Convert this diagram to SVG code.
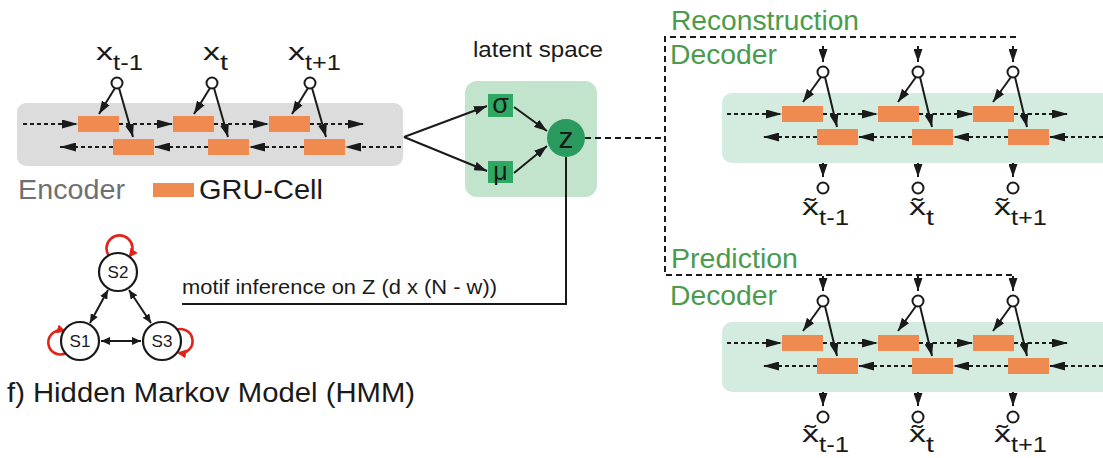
<svg xmlns="http://www.w3.org/2000/svg" width="1103" height="458" viewBox="0 0 1103 458">
  <defs>
    <style>
      text { font-family: "Liberation Sans", Arial, sans-serif; fill: #1a1a1a; }
      .cell { fill: #ef8b50; }
      .io { fill: #ffffff; stroke: #1a1a1a; stroke-width: 2; }
      .dotted { stroke: #1a1a1a; stroke-width: 2; stroke-dasharray: 4 3; fill: none; marker-end: url(#head); }
      .solid { stroke: #1a1a1a; stroke-width: 2; fill: none; marker-end: url(#head-s); }
      .frame { stroke: #1a1a1a; stroke-width: 2; stroke-dasharray: 6 4; fill: none; }
      .big { font-size: 27px; }
      .green { fill: #4a9b4c; }
      .var { font-size: 23px; }
      .sub { font-size: 22px; }
      .state { fill: #ffffff; stroke: #1a1a1a; stroke-width: 2.2; }
      .loop { stroke: #e2231a; stroke-width: 2.6; fill: none; marker-end: url(#head-r); }
      .both { stroke: #1a1a1a; stroke-width: 2; fill: none; marker-start: url(#head-d); marker-end: url(#head-d); }
    </style>
    <marker id="head" viewBox="0 0 16 9" refX="16" refY="4.5" markerWidth="16" markerHeight="9" orient="auto" markerUnits="userSpaceOnUse">
      <path d="M0,0 L16,4.5 L0,9 z" fill="#1a1a1a"/>
    </marker>
    <marker id="head-s" viewBox="0 0 13 9" refX="13" refY="4.5" markerWidth="13" markerHeight="9" orient="auto" markerUnits="userSpaceOnUse">
      <path d="M0,0 L13,4.5 L0,9 z" fill="#1a1a1a"/>
    </marker>
    <marker id="head-d" viewBox="0 0 9 8" refX="9" refY="4" markerWidth="9" markerHeight="8" orient="auto-start-reverse" markerUnits="userSpaceOnUse">
      <path d="M0,0 L9,4 L0,8 z" fill="#1a1a1a"/>
    </marker>
    <marker id="head-r" viewBox="0 0 9 9" refX="7" refY="4.5" markerWidth="9" markerHeight="9" orient="auto" markerUnits="userSpaceOnUse">
      <path d="M0,0 L9,4.5 L0,9 z" fill="#e2231a"/>
    </marker>
  </defs>

  <rect width="1103" height="458" fill="#ffffff"/>

  <!-- Encoder: bidirectional GRU -->
  <g id="encoder">
    <rect x="17" y="103" width="386" height="63" rx="9" fill="#dcdcdc"/>
    <rect class="cell" x="78" y="116" width="41" height="16"/>
    <rect class="cell" x="173" y="116" width="41" height="16"/>
    <rect class="cell" x="269" y="116" width="41" height="16"/>
    <rect class="cell" x="113" y="139" width="41" height="16"/>
    <rect class="cell" x="208" y="139" width="41" height="16"/>
    <rect class="cell" x="304" y="139" width="41" height="16"/>
    <line class="dotted" x1="23" y1="124" x2="78" y2="124"/>
    <line class="dotted" x1="119" y1="124" x2="173" y2="124"/>
    <line class="dotted" x1="214" y1="124" x2="269" y2="124"/>
    <line class="dotted" x1="310" y1="124" x2="364" y2="124"/>
    <line class="dotted" x1="401" y1="147" x2="345" y2="147"/>
    <line class="dotted" x1="304" y1="147" x2="249" y2="147"/>
    <line class="dotted" x1="208" y1="147" x2="154" y2="147"/>
    <line class="dotted" x1="113" y1="147" x2="60" y2="147"/>
    <circle class="io" cx="117" cy="83" r="5.5"/>
    <circle class="io" cx="212" cy="83" r="5.5"/>
    <circle class="io" cx="310" cy="83" r="5.5"/>
    <line class="solid" x1="115" y1="88" x2="99" y2="114"/>
    <line class="solid" x1="119" y1="88" x2="133" y2="137"/>
    <line class="solid" x1="210" y1="88" x2="194" y2="114"/>
    <line class="solid" x1="214" y1="88" x2="228" y2="137"/>
    <line class="solid" x1="308" y1="88" x2="292" y2="114"/>
    <line class="solid" x1="312" y1="88" x2="326" y2="137"/>
    <text class="var" x="96" y="60" textLength="17" lengthAdjust="spacingAndGlyphs">x</text>
    <text class="sub" x="113" y="70" textLength="30" lengthAdjust="spacingAndGlyphs">t-1</text>
    <text class="var" x="203" y="60" textLength="17" lengthAdjust="spacingAndGlyphs">x</text>
    <text class="sub" x="220" y="70" textLength="8" lengthAdjust="spacingAndGlyphs">t</text>
    <text class="var" x="288" y="60" textLength="17" lengthAdjust="spacingAndGlyphs">x</text>
    <text class="sub" x="305" y="70" textLength="36" lengthAdjust="spacingAndGlyphs">t+1</text>
    <text class="big" x="18" y="199" textLength="107" lengthAdjust="spacingAndGlyphs" style="fill:#707070">Encoder</text>
  </g>

  <!-- Legend -->
  <g id="legend">
    <rect class="cell" x="153" y="183" width="41" height="14"/>
    <text class="big" x="199" y="199" textLength="124" lengthAdjust="spacingAndGlyphs">GRU-Cell</text>
  </g>

  <!-- Latent space -->
  <g id="latent">
    <text x="473" y="57" font-size="22" textLength="130" lengthAdjust="spacingAndGlyphs">latent space</text>
    <rect x="465" y="81" width="132" height="116" rx="12" fill="#c2e4cd"/>
    <rect x="488" y="94" width="25" height="23" fill="#2ea862"/>
    <text x="500.5" y="113" font-size="27" text-anchor="middle">σ</text>
    <rect x="488" y="161" width="25" height="22" fill="#2ea862"/>
    <text x="500.5" y="180" font-size="25" text-anchor="middle">μ</text>
    <circle cx="566" cy="138" r="19" fill="#2b9a5f"/>
    <text x="566" y="148" font-size="30" text-anchor="middle">z</text>
  </g>

  <!-- Reconstruction decoder -->
  <g id="recon-decoder">
    <text class="big green" x="671" y="30" textLength="188" lengthAdjust="spacingAndGlyphs">Reconstruction</text>
    <text class="big green" x="670" y="64" textLength="107" lengthAdjust="spacingAndGlyphs">Decoder</text>
    <rect x="722" y="93" width="400" height="70" rx="10" fill="#d4ecdf"/>
    <rect class="cell" x="782" y="106" width="41" height="16"/>
    <rect class="cell" x="878" y="106" width="41" height="16"/>
    <rect class="cell" x="973" y="106" width="41" height="16"/>
    <rect class="cell" x="817" y="129" width="41" height="16"/>
    <rect class="cell" x="912" y="129" width="41" height="16"/>
    <rect class="cell" x="1008" y="129" width="41" height="16"/>
    <line class="dotted" x1="727" y1="114" x2="782" y2="114"/>
    <line class="dotted" x1="823" y1="114" x2="878" y2="114"/>
    <line class="dotted" x1="919" y1="114" x2="973" y2="114"/>
    <line class="dotted" x1="1014" y1="114" x2="1068" y2="114"/>
    <line class="dotted" x1="1103" y1="137" x2="1049" y2="137"/>
    <line class="dotted" x1="1008" y1="137" x2="953" y2="137"/>
    <line class="dotted" x1="912" y1="137" x2="858" y2="137"/>
    <line class="dotted" x1="817" y1="137" x2="763" y2="137"/>
    <line class="solid" x1="823" y1="46" x2="823" y2="62"/>
    <line class="solid" x1="918" y1="46" x2="918" y2="62"/>
    <line class="solid" x1="1013" y1="46" x2="1013" y2="62"/>
    <circle class="io" cx="823" cy="72" r="5.5"/>
    <circle class="io" cx="918" cy="72" r="5.5"/>
    <circle class="io" cx="1013" cy="72" r="5.5"/>
    <line class="solid" x1="821" y1="77" x2="803" y2="102"/>
    <line class="solid" x1="825" y1="77" x2="837" y2="127"/>
    <line class="solid" x1="916" y1="77" x2="898" y2="102"/>
    <line class="solid" x1="920" y1="77" x2="932" y2="127"/>
    <line class="solid" x1="1011" y1="77" x2="993" y2="102"/>
    <line class="solid" x1="1015" y1="77" x2="1027" y2="127"/>
    <line class="solid" x1="823" y1="163" x2="823" y2="177"/>
    <line class="solid" x1="918" y1="163" x2="918" y2="177"/>
    <line class="solid" x1="1013" y1="163" x2="1013" y2="177"/>
    <circle class="io" cx="823" cy="188" r="5.5"/>
    <circle class="io" cx="918" cy="188" r="5.5"/>
    <circle class="io" cx="1013" cy="188" r="5.5"/>
    <text class="var" x="802" y="215" textLength="17" lengthAdjust="spacingAndGlyphs">x̃</text>
    <text class="sub" x="819" y="225" textLength="30" lengthAdjust="spacingAndGlyphs">t-1</text>
    <text class="var" x="909" y="215" textLength="17" lengthAdjust="spacingAndGlyphs">x̃</text>
    <text class="sub" x="926" y="225" textLength="8" lengthAdjust="spacingAndGlyphs">t</text>
    <text class="var" x="994" y="215" textLength="17" lengthAdjust="spacingAndGlyphs">x̃</text>
    <text class="sub" x="1011" y="225" textLength="36" lengthAdjust="spacingAndGlyphs">t+1</text>
  </g>

  <!-- Prediction decoder -->
  <g id="pred-decoder">
    <text class="big green" x="671" y="268" textLength="127" lengthAdjust="spacingAndGlyphs">Prediction</text>
    <text class="big green" x="670" y="305" textLength="107" lengthAdjust="spacingAndGlyphs">Decoder</text>
    <g transform="translate(0,229)">
      <rect x="722" y="93" width="400" height="70" rx="10" fill="#d4ecdf"/>
      <rect class="cell" x="782" y="106" width="41" height="16"/>
      <rect class="cell" x="878" y="106" width="41" height="16"/>
      <rect class="cell" x="973" y="106" width="41" height="16"/>
      <rect class="cell" x="817" y="129" width="41" height="16"/>
      <rect class="cell" x="912" y="129" width="41" height="16"/>
      <rect class="cell" x="1008" y="129" width="41" height="16"/>
      <line class="dotted" x1="727" y1="114" x2="782" y2="114"/>
      <line class="dotted" x1="823" y1="114" x2="878" y2="114"/>
      <line class="dotted" x1="919" y1="114" x2="973" y2="114"/>
      <line class="dotted" x1="1014" y1="114" x2="1068" y2="114"/>
      <line class="dotted" x1="1103" y1="137" x2="1049" y2="137"/>
      <line class="dotted" x1="1008" y1="137" x2="953" y2="137"/>
      <line class="dotted" x1="912" y1="137" x2="858" y2="137"/>
      <line class="dotted" x1="817" y1="137" x2="763" y2="137"/>
      <line class="solid" x1="823" y1="47" x2="823" y2="62"/>
      <line class="solid" x1="918" y1="47" x2="918" y2="62"/>
      <line class="solid" x1="1013" y1="47" x2="1013" y2="62"/>
      <circle class="io" cx="823" cy="72" r="5.5"/>
      <circle class="io" cx="918" cy="72" r="5.5"/>
      <circle class="io" cx="1013" cy="72" r="5.5"/>
      <line class="solid" x1="821" y1="77" x2="803" y2="102"/>
      <line class="solid" x1="825" y1="77" x2="837" y2="127"/>
      <line class="solid" x1="916" y1="77" x2="898" y2="102"/>
      <line class="solid" x1="920" y1="77" x2="932" y2="127"/>
      <line class="solid" x1="1011" y1="77" x2="993" y2="102"/>
      <line class="solid" x1="1015" y1="77" x2="1027" y2="127"/>
      <line class="solid" x1="823" y1="163" x2="823" y2="177"/>
      <line class="solid" x1="918" y1="163" x2="918" y2="177"/>
      <line class="solid" x1="1013" y1="163" x2="1013" y2="177"/>
      <circle class="io" cx="823" cy="188" r="5.5"/>
      <circle class="io" cx="918" cy="188" r="5.5"/>
      <circle class="io" cx="1013" cy="188" r="5.5"/>
      <text class="var" x="802" y="213" textLength="17" lengthAdjust="spacingAndGlyphs">x̃</text>
      <text class="sub" x="819" y="223" textLength="30" lengthAdjust="spacingAndGlyphs">t-1</text>
      <text class="var" x="909" y="213" textLength="17" lengthAdjust="spacingAndGlyphs">x̃</text>
      <text class="sub" x="926" y="223" textLength="8" lengthAdjust="spacingAndGlyphs">t</text>
      <text class="var" x="994" y="213" textLength="17" lengthAdjust="spacingAndGlyphs">x̃</text>
      <text class="sub" x="1011" y="223" textLength="36" lengthAdjust="spacingAndGlyphs">t+1</text>
    </g>
  </g>

  <!-- Hidden Markov Model -->
  <g id="hmm">
    <path class="loop" d="M109,256 A13,13 0 1,1 130,256"/>
    <path class="loop" d="M66,353 A12,12 0 1,1 64,331"/>
    <path class="loop" d="M176,330 A12,12 0 1,1 179,353"/>
    <line class="both" x1="90" y1="323" x2="108" y2="290"/>
    <line class="both" x1="129" y1="290" x2="151" y2="323"/>
    <line class="both" x1="101" y1="341" x2="141" y2="341"/>
    <g id="s2"><circle class="state" cx="118" cy="272" r="19"/><text x="118" y="278" font-size="17" text-anchor="middle">S2</text></g>
    <g id="s1"><circle class="state" cx="80" cy="341" r="19"/><text x="80" y="347" font-size="17" text-anchor="middle">S1</text></g>
    <g id="s3"><circle class="state" cx="162" cy="341" r="19"/><text x="162" y="347" font-size="17" text-anchor="middle">S3</text></g>
    <text x="7" y="402" font-size="28" textLength="408" lengthAdjust="spacingAndGlyphs">f) Hidden Markov Model (HMM)</text>
  </g>

  <!-- Connectors between stages -->
  <g id="connectors">
    <line class="solid" x1="404" y1="137" x2="487" y2="106"/>
    <line class="solid" x1="404" y1="137" x2="487" y2="171"/>
    <line class="solid" x1="514" y1="107" x2="547" y2="131"/>
    <line class="solid" x1="514" y1="173" x2="547" y2="146"/>
    <line class="frame" x1="585" y1="138" x2="665" y2="138"/>
    <polyline class="frame" points="1016,37 665,37 665,275 1016,275"/>
    <polyline points="566,157 566,304 182,304" fill="none" stroke="#1a1a1a" stroke-width="2"/>
    <text x="182" y="294" font-size="21" textLength="315" lengthAdjust="spacingAndGlyphs">motif inference on Z (d x (N - w))</text>
  </g>
</svg>
